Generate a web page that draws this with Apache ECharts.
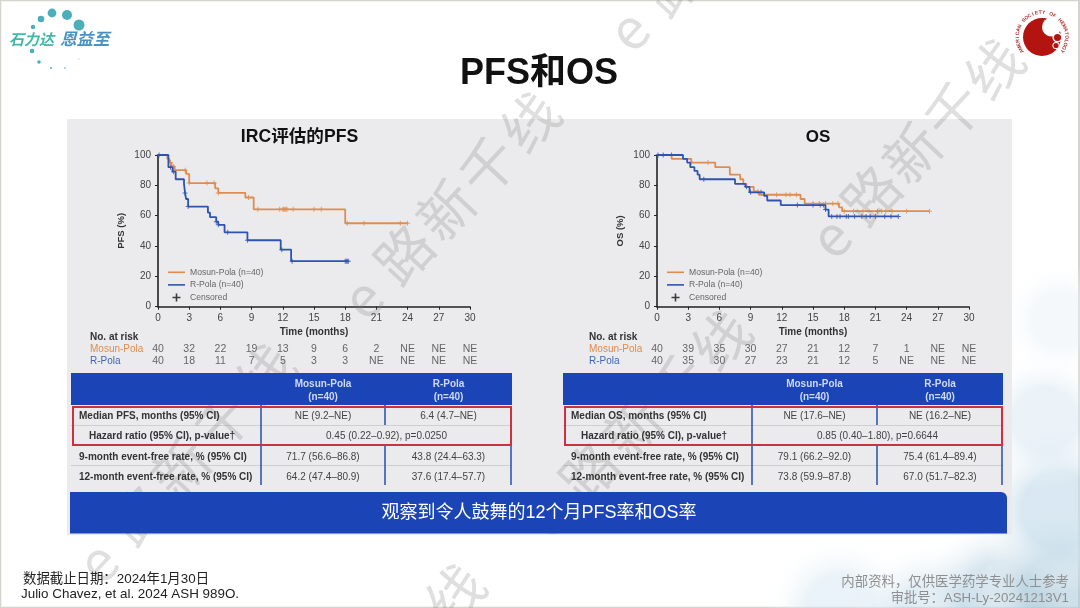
<!DOCTYPE html>
<html>
<head>
<meta charset="utf-8">
<title>PFS和OS</title>
<script src="https://cdn.jsdelivr.net/npm/echarts@6/dist/echarts.min.js"></script>
<style>
    html, body { margin: 0; padding: 0; background: #fff; }
    #main { width: 1080px; height: 608px; }
</style>
</head>
<body>
<div id="main"></div>
<script>
    // survival curves, [months, percent]
    const pfsMosun = [[0, 100], [0.9, 97.5], [1.1, 95], [1.3, 92.5], [1.6, 90], [2.7, 87.5], [3.0, 81.5], [5.5, 78], [5.8, 75], [8.4, 72], [9.2, 64.2], [18.0, 55], [24.0, 55]];
    const pfsRPola = [[0, 100], [1.0, 92], [1.4, 89], [1.7, 84], [2.5, 81], [2.6, 75], [2.7, 71], [2.9, 66], [4.8, 62], [5.0, 59], [5.6, 56], [5.8, 54], [6.4, 49], [8.6, 43.8], [11.8, 37.6], [12.8, 30], [18.3, 30]];
    const osMosun = [[0, 100], [1.4, 97.5], [3.3, 95], [5.6, 92], [7.0, 87], [8.0, 84], [8.3, 81], [8.6, 79], [9.3, 76], [9.8, 73.8], [13.8, 71], [14.2, 68], [17.5, 65.5], [17.8, 63], [26.2, 63]];
    const osRPola = [[0, 100], [2.5, 97.5], [2.9, 95], [3.2, 92], [3.6, 89.5], [3.9, 87], [4.1, 84], [7.5, 81], [8.5, 79], [8.9, 75.4], [10.3, 73], [10.6, 70], [11.9, 67], [16.2, 64], [16.5, 59.5], [23.2, 59.5]];

    // censored times, months
    const pfsMosunCensor = [1.2, 1.5, 2.6, 3.0, 4.7, 5.4, 5.8, 8.7, 9.6, 11.7, 12.0, 12.1, 12.2, 12.3, 12.4, 13.0, 15.0, 15.7, 18.2, 19.8, 23.3, 24.0];
    const pfsRPolaCensor = [0.1, 1.2, 1.5, 2.6, 2.9, 5.6, 5.8, 6.7, 8.6, 11.9, 12.9, 18.0, 18.1, 18.2, 18.3];
    const osMosunCensor = [3.3, 4.9, 9.7, 11.5, 12.4, 12.8, 13.4, 15.0, 15.6, 16.2, 16.9, 17.4, 18.0, 18.9, 19.8, 21.2, 21.6, 22.0, 22.6, 24.0, 26.2];
    const osRPolaCensor = [0.1, 0.6, 1.4, 4.5, 8.6, 9.0, 10.0, 13.5, 15.0, 15.7, 16.0, 16.2, 16.8, 17.3, 17.6, 18.2, 18.4, 19.0, 19.7, 20.1, 20.5, 21.0, 21.9, 22.5, 23.2];

    // number at risk
    const riskTimes = [0, 3, 6, 9, 12, 15, 18, 21, 24, 27, 30];
    const riskRows = ['R-Pola', 'Mosun-Pola', 'No. at risk'];
    const pfsRiskMosun = ['40', '32', '22', '19', '13', '9', '6', '2', 'NE', 'NE', 'NE'];
    const pfsRiskRPola = ['40', '18', '11', '7', '5', '3', '3', 'NE', 'NE', 'NE', 'NE'];
    const osRiskMosun = ['40', '39', '35', '30', '27', '21', '12', '7', '1', 'NE', 'NE'];
    const osRiskRPola = ['40', '35', '30', '27', '23', '21', '12', '5', 'NE', 'NE', 'NE'];

    const legendNames = ['Mosun-Pola (n=40)', 'R-Pola (n=40)', 'Censored'];

    // tables
    const tableHead = [['Mosun-Pola', '(n=40)'], ['R-Pola', '(n=40)']];
    const pfsTable = [
        ['Median PFS, months (95% CI)', 'NE (9.2–NE)', '6.4 (4.7–NE)'],
        ['Hazard ratio (95% CI), p-value†', '0.45 (0.22–0.92), p=0.0250'],
        ['9-month event-free rate, % (95% CI)', '71.7 (56.6–86.8)', '43.8 (24.4–63.3)'],
        ['12-month event-free rate, % (95% CI)', '64.2 (47.4–80.9)', '37.6 (17.4–57.7)']
    ];
    const osTable = [
        ['Median OS, months (95% CI)', 'NE (17.6–NE)', 'NE (16.2–NE)'],
        ['Hazard ratio (95% CI), p-value†', '0.85 (0.40–1.80), p=0.6644'],
        ['9-month event-free rate, % (95% CI)', '79.1 (66.2–92.0)', '75.4 (61.4–89.4)'],
        ['12-month event-free rate, % (95% CI)', '73.8 (59.9–87.8)', '67.0 (51.7–82.3)']
    ];

    const ORANGE = '#e08c4e';
    const BLUE = '#2e54ae';
    const HEAD_BLUE = '#1b45b6';
    const FONT = '"Liberation Sans", "Noto Sans CJK SC", sans-serif';
    const PLUS = 'path://M4 0h2v4h4v2H6v4H4V6H0V4h4z';
    // thin bar in a wider box, so the legend shows a plain line
    const LEGEND_LINE = 'path://M0 0M17 8M0 3.2h17v1.6H0z';

    // step curve value at a given time
    function survAt(curve, t) {
        let s = curve[0][1];
        for (let i = 0; i < curve.length; i++) {
            if (curve[i][0] <= t) s = curve[i][1];
        }
        return s;
    }

    let grids = [];
    let xAxes = [];
    let yAxes = [];
    let series = [];
    let legends = [];

    // one survival panel: plot grid + number-at-risk grid
    function addPanel(left, yName, mosun, rpola, mosunCensor, rpolaCensor, riskM, riskR) {
        let g = grids.length;
        grids.push({ left: left, width: 312, top: 155, height: 151.7 });
        grids.push({ left: left, width: 312, top: 331, height: 36 });

        xAxes.push({
            gridIndex: g, type: 'value', min: 0, max: 30, interval: 3,
            name: 'Time (months)', nameLocation: 'middle', nameGap: 21,
            nameTextStyle: { fontFamily: FONT, fontSize: 10, fontWeight: 'bold', color: '#333' },
            axisLine: { lineStyle: { color: '#222', width: 1.6 } },
            axisTick: { length: 3, lineStyle: { color: '#222', width: 1 } },
            axisLabel: { fontFamily: FONT, fontSize: 10, color: '#444', margin: 7 },
            splitLine: { show: false }
        });
        yAxes.push({
            gridIndex: g, type: 'value', min: 0, max: 100, interval: 20,
            name: yName, nameLocation: 'middle', nameGap: 32,
            nameTextStyle: { fontFamily: FONT, fontSize: 9.5, fontWeight: 'bold', color: '#333' },
            axisLine: { show: true, lineStyle: { color: '#222', width: 1.6 } },
            axisTick: { show: true, length: 3, lineStyle: { color: '#222', width: 1 } },
            axisLabel: { fontFamily: FONT, fontSize: 10, color: '#444', margin: 7 },
            splitLine: { show: false }
        });
        xAxes.push({ gridIndex: g + 1, type: 'value', min: 0, max: 30, show: false });
        yAxes.push({
            gridIndex: g + 1, type: 'category', data: riskRows,
            axisLine: { show: false }, axisTick: { show: false },
            axisLabel: {
                align: 'left', margin: 68, interval: 0,
                formatter: function (v) {
                    if (v == 'No. at risk') return '{h|' + v + '}';
                    return (v == 'R-Pola' ? '{b|' : '{m|') + v + '}';
                },
                rich: {
                    h: { fontFamily: FONT, fontSize: 10, fontWeight: 'bold', color: '#333' },
                    m: { fontFamily: FONT, fontSize: 10, color: ORANGE },
                    b: { fontFamily: FONT, fontSize: 10, color: '#3d66bb' }
                }
            }
        });

        let lines = [[legendNames[0], mosun, ORANGE, mosunCensor], [legendNames[1], rpola, BLUE, rpolaCensor]];
        lines.forEach(function (l) {
            series.push({
                name: l[0], type: 'line', xAxisIndex: g, yAxisIndex: g, data: l[1],
                step: 'end', symbol: 'none', silent: true, animation: false,
                lineStyle: { color: l[2], width: 1.8 }, itemStyle: { color: l[2] }
            });
            series.push({
                type: 'scatter', xAxisIndex: g, yAxisIndex: g, symbol: PLUS, symbolSize: 5,
                silent: true, animation: false, itemStyle: { color: l[2] },
                data: l[3].map(function (t) { return [t, survAt(l[1], t)]; })
            });
        });
        // empty series only so the legend gets its third row
        series.push({
            name: legendNames[2], type: 'scatter', xAxisIndex: g, yAxisIndex: g, data: [],
            symbol: PLUS, itemStyle: { color: '#111' }
        });

        [[1, riskM], [0, riskR]].forEach(function (r) {
            series.push({
                type: 'scatter', xAxisIndex: g + 1, yAxisIndex: g + 1, symbolSize: 1,
                silent: true, animation: false, itemStyle: { color: 'transparent' },
                data: riskTimes.map(function (t) { return [t, r[0]]; }),
                label: {
                    show: true, position: 'inside', fontFamily: FONT, fontSize: 10.5, color: '#444',
                    formatter: function (p) { return r[1][p.dataIndex]; }
                }
            });
        });

        legends.push({
            left: left + 10, top: 268, orient: 'vertical',
            data: [
                { name: legendNames[0], icon: LEGEND_LINE },
                { name: legendNames[1], icon: LEGEND_LINE },
                { name: legendNames[2] }
            ],
            selectedMode: false, itemWidth: 17, itemHeight: 8, itemGap: 4, padding: 0,
            textStyle: { fontFamily: FONT, fontSize: 8.6, color: '#666', padding: [0, 0, 0, 0] }
        });
    }

    addPanel(158, 'PFS (%)', pfsMosun, pfsRPola, pfsMosunCensor, pfsRPolaCensor, pfsRiskMosun, pfsRiskRPola);
    addPanel(657, 'OS (%)', osMosun, osRPola, osMosunCensor, osRPolaCensor, osRiskMosun, osRiskRPola);

    let gfx = [];

    function rect(x, y, w, h, fill, z, r) {
        gfx.push({ type: 'rect', silent: true, z: z, shape: { x: x, y: y, width: w, height: h, r: r || 0 }, style: { fill: fill } });
    }
    function line(x1, y1, x2, y2, color, w, z) {
        gfx.push({ type: 'line', silent: true, z: z, shape: { x1: x1, y1: y1, x2: x2, y2: y2 }, style: { stroke: color, lineWidth: w } });
    }
    function text(str, x, y, font, fill, align, z, rot) {
        gfx.push({
            type: 'text', silent: true, z: z, x: x, y: y, rotation: rot || 0,
            style: { text: str, x: 0, y: 0, font: font, fill: fill, textAlign: align || 'left', textVerticalAlign: 'middle' }
        });
    }
    function dot(x, y, r, fill, z) {
        gfx.push({ type: 'circle', silent: true, z: z, shape: { cx: x, cy: y, r: r }, style: { fill: fill } });
    }

    // page frame
    line(0.5, 0, 0.5, 608, '#d4d4ce', 1.5, -10);
    line(0, 0.5, 1080, 0.5, '#d4d4ce', 1.5, -10);
    line(0, 607.5, 1080, 607.5, '#d4d4ce', 1.5, -10);
    line(1079, 0, 1079, 608, '#d4d4ce', 2, -10);

    // pale blue pills in the lower right corner
    function blotch(x, y, r, color) {
        gfx.push({
            type: 'circle', silent: true, z: -9, shape: { cx: x, cy: y, r: r },
            style: {
                fill: new echarts.graphic.RadialGradient(0.5, 0.5, 0.5, [
                    { offset: 0, color: color }, { offset: 0.45, color: color }, { offset: 1, color: 'rgba(255,255,255,0)' }
                ])
            }
        });
    }
    blotch(840, 610, 75, 'rgba(215,232,242,0.55)');
    blotch(930, 620, 80, 'rgba(200,222,235,0.55)');
    blotch(1000, 600, 85, 'rgba(190,214,228,0.6)');
    blotch(1060, 590, 80, 'rgba(175,204,220,0.6)');
    blotch(1060, 510, 85, 'rgba(200,222,235,0.7)');
    blotch(1045, 420, 70, 'rgba(220,234,243,0.6)');
    blotch(1060, 320, 60, 'rgba(232,241,247,0.5)');

    // grey slide panel
    rect(67, 119, 945, 416, '#ebebed', -5);

    // titles
    text('PFS和OS', 539, 74.5, 'bold 36px ' + FONT, '#111', 'center', 20);
    text('IRC评估的PFS', 299.5, 137.5, 'bold 17.6px ' + FONT, '#111', 'center', 20);
    text('OS', 818, 137.5, 'bold 17px ' + FONT, '#111', 'center', 20);

    function addTable(x0, col1, col2, x1, rows) {
        rect(x0, 373, x1 - x0, 32, HEAD_BLUE, 11);
        let c1 = (col1 + col2) / 2;
        let c2 = (col2 + x1) / 2;
        [c1, c2].forEach(function (c, i) {
            text(tableHead[i][0], c, 384, 'bold 10px ' + FONT, '#cfd9f0', 'center', 12);
            text(tableHead[i][1], c, 397, 'bold 10px ' + FONT, '#cfd9f0', 'center', 12);
        });
        let ys = [416.5, 436.5, 457, 477];
        [425.5, 465.5].forEach(function (y) { line(x0, y, x1, y, '#cfcfd2', 1, 6); });
        line(col1, 405, col1, 485, '#3358ad', 1.6, 12);
        line(x1 - 1, 445, x1 - 1, 485, '#3358ad', 1.6, 12);
        [[405, 425], [445, 485]].forEach(function (s) { line(col2, s[0], col2, s[1], '#3358ad', 1.6, 12); });
        rows.forEach(function (r, i) {
            text(r[0], x0 + (i == 1 ? 18 : 8), ys[i], 'bold 10px ' + FONT, '#333', 'left', 12);
            if (r.length == 2) {
                text(r[1], (col1 + x1) / 2, ys[i], '10px ' + FONT, '#444', 'center', 12);
            } else {
                text(r[1], c1, ys[i], '10px ' + FONT, '#444', 'center', 12);
                text(r[2], c2, ys[i], '10px ' + FONT, '#444', 'center', 12);
            }
        });
        // red highlight box
        gfx.push({
            type: 'rect', silent: true, z: 13,
            shape: { x: x0 + 2, y: 407, width: x1 - x0 - 3, height: 38 },
            style: { fill: 'none', stroke: '#cf3040', lineWidth: 2 }
        });
    }
    addTable(71, 261, 385, 512, pfsTable);
    addTable(563, 752, 877, 1003, osTable);

    // bottom banner
    rect(70, 492, 937, 41.5, HEAD_BLUE, 11, [0, 6, 0, 0]);
    text('观察到令人鼓舞的12个月PFS率和OS率', 539, 513, '18px ' + FONT, '#fff', 'center', 12);

    // footnotes
    text('数据截止日期：2024年1月30日', 23, 579, '13.4px ' + FONT, '#222', 'left', 20);
    text('Julio Chavez, et al. 2024 ASH 989O.', 21, 594, '13.4px ' + FONT, '#222', 'left', 20);
    text('内部资料，仅供医学药学专业人士参考', 1069, 582, '13.4px ' + FONT, '#8f8f8f', 'right', 20);
    text('审批号：ASH-Ly-20241213V1', 1069, 598, '13.3px ' + FONT, '#8f8f8f', 'right', 20);

    // watermark, one glyph at a time along a diagonal
    const wmChars = ['e', '路', '新', '千', '线'];
    const WM_FONT = '56px "Noto Sans CJK SC", sans-serif';
    const WM_FILL = 'rgba(120,120,120,0.24)';
    function watermark(x, y, dx, dy, from, to) {
        for (let i = from; i <= to; i++) {
            text(wmChars[i], x + dx * i, y + dy * i, WM_FONT, WM_FILL, 'center', 10, 0.82);
        }
    }
    watermark(362, 298, 42, -44, 0, 4);
    watermark(830, 237, 41, -42, 0, 4);
    watermark(97, 562, 42, -47, 0, 4);
    watermark(545, 516, 44, -44, 0, 4);
    watermark(628, 30, 44, -44, 0, 1);
    text('线', 455, 594, WM_FONT, WM_FILL, 'center', 10, 0.82);

    // logo, top left
    const logoDots = [[33, 27, 2.2], [41, 19, 3.3], [52, 13, 4.4], [67, 15, 5], [79, 25, 5.5], [32, 51, 2.3], [39, 62, 1.8], [51, 68, 1], [65, 68, 0.8], [79, 59, 0.5]];
    logoDots.forEach(function (d) { dot(d[0], d[1], d[2], '#4aaebb', 5); });
    text('石力达', 9, 39, 'italic bold 15px "Noto Sans CJK SC", sans-serif', '#45b7a8', 'left', 6);
    text('恩益至', 60, 39, 'italic bold 16.5px "Noto Sans CJK SC", sans-serif', '#4a92c2', 'left', 6);

    // ASH logo, top right
    const ASH_RED = '#b3140f';
    const ashLetters = 'AMERICAN SOCIETY OF HEMATOLOGY'.split('');
    const ashX = 1042;
    const ashY = 37;
    dot(ashX, ashY, 19, ASH_RED, 5);
    dot(1051.5, 27, 9.5, '#fff', 6);
    dot(1057.5, 37.5, 5, '#fff', 6);
    dot(1056, 45.5, 3.6, '#fff', 6);
    dot(1057.5, 37.5, 3.6, ASH_RED, 7);
    dot(1056, 45.5, 2.6, ASH_RED, 7);
    ashLetters.forEach(function (c, i) {
        let a = (-125 + i * (250 / (ashLetters.length - 1))) * Math.PI / 180;
        text(c, ashX + 24.5 * Math.sin(a), ashY - 24.5 * Math.cos(a), 'bold 5px ' + FONT, '#a33', 'center', 6, -a);
    });

    let chart = echarts.init(document.getElementById('main'), null, { renderer: 'canvas' });
    chart.setOption({
        animation: false,
        backgroundColor: '#fff',
        grid: grids,
        xAxis: xAxes,
        yAxis: yAxes,
        legend: legends,
        series: series,
        graphic: { elements: gfx }
    });
</script>
</body>
</html>
